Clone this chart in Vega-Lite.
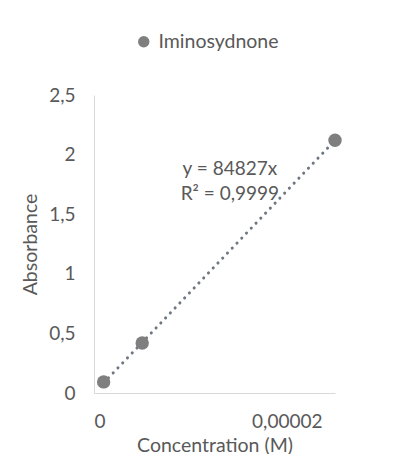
{
  "$schema": "https://vega.github.io/schema/vega-lite/v6.json",
  "autosize": "none",
  "width": 241,
  "height": 298,
  "padding": {"left": 94, "top": 95, "right": 63, "bottom": 61},
  "background": "white",
  "config": {
    "font": "Lato",
    "view": {"stroke": null},
    "axis": {
      "domainColor": "#d9d9d9",
      "domainWidth": 1,
      "ticks": false,
      "grid": false,
      "labelColor": "#595959",
      "titleColor": "#595959",
      "labelFontSize": 19,
      "titleFontSize": 19.5,
      "labelFont": "Lato",
      "titleFont": "Lato",
      "titleFontWeight": "normal"
    },
    "legend": {"labelColor": "#595959", "labelFontSize": 19.5, "labelFont": "Lato"}
  },
  "datasets": {
    "points": [
      {"conc": 0.000001, "abs": 0.093, "series": "Iminosydnone"},
      {"conc": 0.000005, "abs": 0.42, "series": "Iminosydnone"},
      {"conc": 0.000025, "abs": 2.12, "series": "Iminosydnone"}
    ],
    "trend": [
      {"conc": 0.000001, "fit": 0.085},
      {"conc": 0.000025, "fit": 2.12}
    ],
    "notes": [
      {"conc": 0.0000141, "abs": 1.88, "label": "y = 84827x"},
      {"conc": 0.0000141, "abs": 1.67, "label": "R² = 0,9999"}
    ]
  },
  "layer": [
    {
      "data": {"name": "trend"},
      "mark": {"type": "line", "color": "#6e7781", "strokeWidth": 3, "strokeDash": [0.1, 6.8], "strokeCap": "round"},
      "encoding": {
        "x": {"field": "conc", "type": "quantitative"},
        "y": {"field": "fit", "type": "quantitative"}
      }
    },
    {
      "data": {"name": "points"},
      "mark": {"type": "point", "filled": true, "opacity": 1, "size": 180},
      "encoding": {
        "x": {
          "field": "conc", "type": "quantitative",
          "scale": {"domain": [0, 0.000025], "nice": false, "zero": true},
          "axis": {"title": "Concentration (M)", "values": [0, 0.00002], "labelExpr": "replace(toString(datum.value), '.', ',')", "labelPadding": 19, "titlePadding": 5}
        },
        "y": {
          "field": "abs", "type": "quantitative",
          "scale": {"domain": [0, 2.5], "nice": false},
          "axis": {"title": "Absorbance", "values": [0, 0.5, 1, 1.5, 2, 2.5], "labelExpr": "replace(toString(datum.value), '.', ',')", "labelPadding": 19, "titlePadding": 8}
        },
        "color": {
          "field": "series", "type": "nominal",
          "scale": {"range": ["#7f7f7f"]},
          "legend": {"title": null, "orient": "none", "legendX": 40, "legendY": -63, "symbolSize": 130, "symbolType": "circle", "labelOffset": 5}
        }
      }
    },
    {
      "data": {"name": "notes"},
      "mark": {"type": "text", "fontSize": 19, "color": "#595959", "font": "Lato"},
      "encoding": {
        "x": {"field": "conc", "type": "quantitative"},
        "y": {"field": "abs", "type": "quantitative"},
        "text": {"field": "label"}
      }
    }
  ]
}
